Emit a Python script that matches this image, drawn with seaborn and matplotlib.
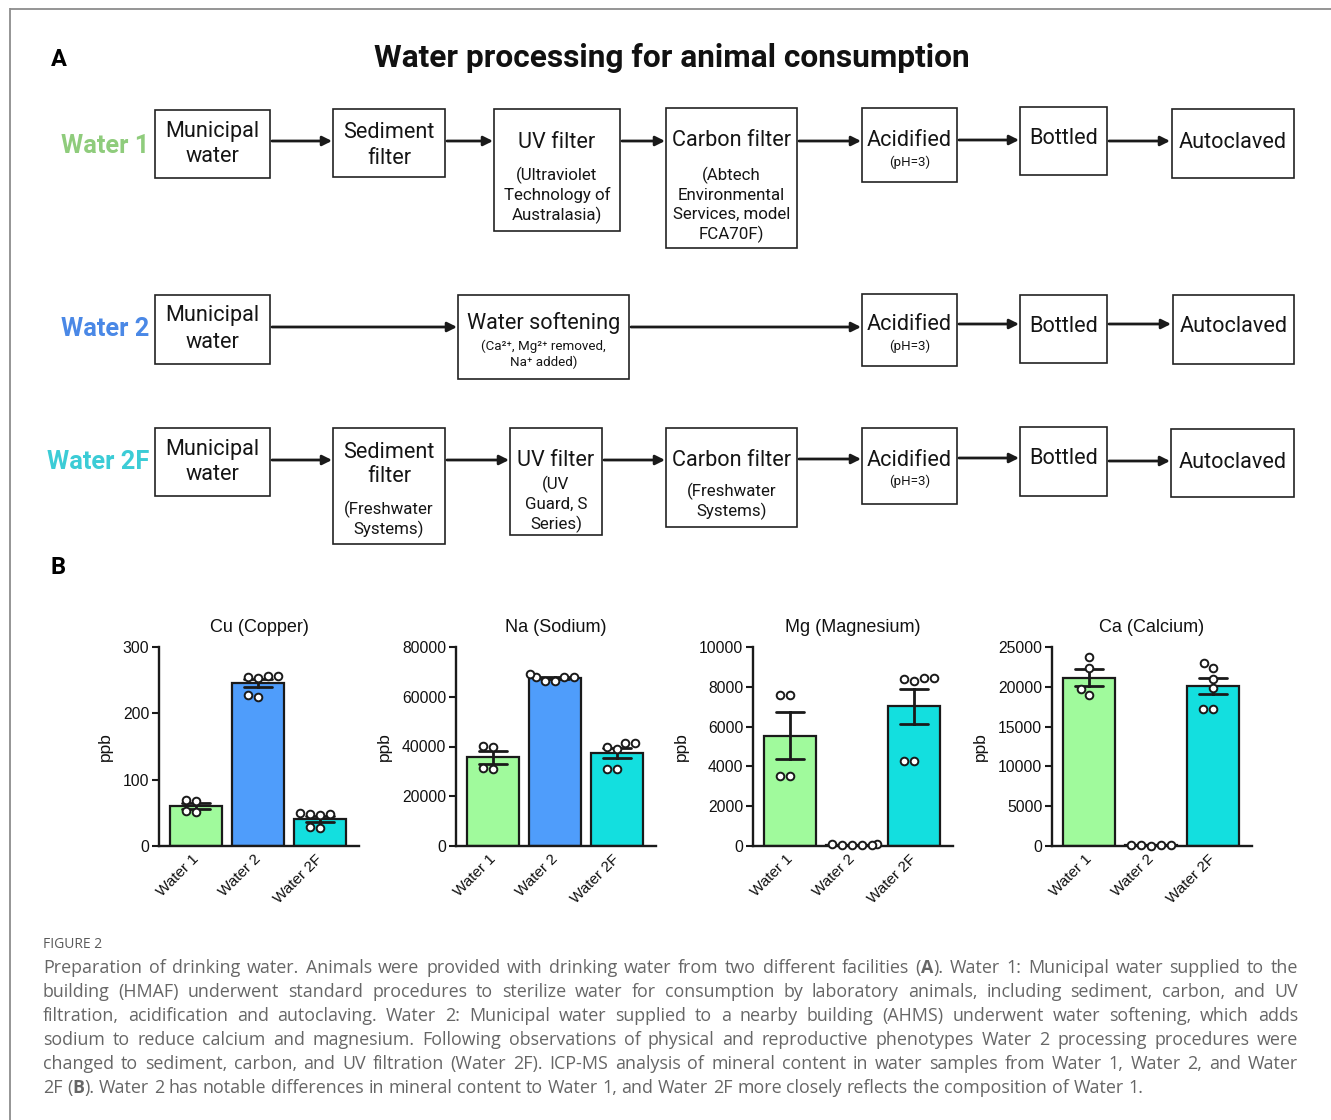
import numpy as np
import pandas as pd
import matplotlib
matplotlib.use("Agg")
import matplotlib.pyplot as plt
from matplotlib.patches import Rectangle
import seaborn as sns

W, H = 1331, 1120

# ---------------- data (ppb, ICP-MS) ----------------
groups = ["Water 1", "Water 2", "Water 2F"]
bar_colors = ["#a0fa9c", "#4f9dfb", "#13dfdf"]

cu_w1 = [68, 69, 53, 52]
cu_w2 = [257, 255, 254, 257, 224, 227]
cu_w2f = [48, 49, 46, 48, 27, 28]

na_w1 = [40000, 40200, 31200, 31000]
na_w2 = [66300, 67900, 68000, 67900, 69000, 66300]
na_w2f = [39900, 41300, 41500, 38900, 31100, 31100]

mg_w1 = [7600, 7580, 3520, 3500]
mg_w2 = [60, 90, 80, 70, 40, 70]
mg_w2f = [8410, 8460, 8290, 8430, 4270, 4280]

ca_w1 = [23740, 22320, 19680, 18930]
ca_w2 = [80, 90, 70, 100, 60]
ca_w2f = [22400, 23030, 21020, 19810, 17250, 17260]

panel_titles = ["Cu (Copper)", "Na (Sodium)", "Mg (Magnesium)", "Ca (Calcium)"]
panel_values = [[cu_w1, cu_w2, cu_w2f], [na_w1, na_w2, na_w2f],
                [mg_w1, mg_w2, mg_w2f], [ca_w1, ca_w2, ca_w2f]]
panel_ymax = [300, 80000, 10000, 25000]
panel_ystep = [100, 20000, 2000, 5000]

# ---------------- flow diagram text ----------------
title_text = "Water processing for animal consumption"
row_names = ["Water 1", "Water 2", "Water 2F"]
row_colors = ["#8fcc7c", "#4a88e6", "#3cccd6"]

caption_head = "FIGURE 2"
caption_lines = [
    "Preparation of drinking water. Animals were provided with drinking water from two different facilities (**A**). Water 1: Municipal water supplied to the",
    "building (HMAF) underwent standard procedures to sterilize water for consumption by laboratory animals, including sediment, carbon, and UV",
    "filtration, acidification and autoclaving. Water 2: Municipal water supplied to a nearby building (AHMS) underwent water softening, which adds",
    "sodium to reduce calcium and magnesium. Following observations of physical and reproductive phenotypes Water 2 processing procedures were",
    "changed to sediment, carbon, and UV filtration (Water 2F). ICP-MS analysis of mineral content in water samples from Water 1, Water 2, and Water",
    "2F (**B**). Water 2 has notable differences in mineral content to Water 1, and Water 2F more closely reflects the composition of Water 1.",
]

# ---------------- style ----------------
sns.set_style("ticks")
plt.rcParams["font.family"] = ["Liberation Sans", "DejaVu Sans"]
DIAG_FONT = ["Roboto", "DejaVu Sans"]
CAP_FONT = ["Open Sans", "DejaVu Sans"]
INK = "#1a1a1a"

fig = plt.figure(figsize=(W / 100, H / 100), dpi=100)
bg = fig.add_axes([0, 0, 1, 1])
bg.set_xlim(0, W)
bg.set_ylim(H, 0)
bg.axis("off")

# outer frame (top and left rules)
bg.plot([10, W], [8.5, 8.5], color="#8c8c8c", lw=1.3, solid_capstyle="butt")
bg.plot([9.5, 9.5], [8, H], color="#8c8c8c", lw=1.3, solid_capstyle="butt")

# panel letters and heading
bg.text(51, 59, "A", fontsize=17, fontweight="bold", family=DIAG_FONT, va="center", ha="left", color="black")
bg.text(51, 567, "B", fontsize=17, fontweight="bold", family=DIAG_FONT, va="center", ha="left", color="black")
bg.text(672, 58, title_text, fontsize=22.8, fontweight="bold", family=DIAG_FONT,
        va="center", ha="center", color="#111111")


def box(x0, y0, x1, y1, lines):
    bg.add_patch(Rectangle((x0, y0), x1 - x0, y1 - y0, fill=False, lw=1.2, edgecolor="#222222"))
    xc = (x0 + x1) / 2
    for txt, y, size in lines:
        bg.text(xc, y, txt, fontsize=size, family=DIAG_FONT, ha="center", va="center", color="#151515")


def arrow(x0, x1, y):
    bg.annotate("", xy=(x1, y), xytext=(x0, y),
                arrowprops=dict(arrowstyle="-|>", lw=2.0, color=INK, mutation_scale=14,
                                shrinkA=0, shrinkB=0))


BIG, SMALL, TINY = 15.6, 12.2, 9.6

# row labels
for name, col, y in zip(row_names, row_colors, [146, 329, 462]):
    bg.text(149, y, name, fontsize=18.3, fontweight="bold", family=DIAG_FONT, ha="right", va="center", color=col)

# Water 1 pipeline
box(155, 110, 270, 178, [("Municipal", 131, BIG), ("water", 157, BIG)])
arrow(272, 332, 141)
box(333, 109, 445, 177, [("Sediment", 133, BIG), ("filter", 158, BIG)])
arrow(447, 493, 141)
box(494, 109, 620, 231, [("UV filter", 142, BIG), ("(Ultraviolet", 175, SMALL),
                         ("Technology of", 195, SMALL), ("Australasia)", 215, SMALL)])
arrow(622, 665, 141)
box(666, 108, 797, 248, [("Carbon filter", 141, BIG), ("(Abtech", 175, SMALL), ("Environmental", 195, SMALL),
                         ("Services, model", 214, SMALL), ("FCA70F)", 234, SMALL)])
arrow(799, 861, 141)
box(862, 108, 957, 182, [("Acidified", 140, BIG), ("(pH=3)", 162, TINY)])
arrow(959, 1019, 140)
box(1020, 107, 1107, 175, [("Bottled", 139, BIG)])
arrow(1109, 1170, 141)
box(1172, 109, 1294, 178, [("Autoclaved", 142, BIG)])

# Water 2 pipeline
box(155, 295, 270, 364, [("Municipal", 316, BIG), ("water", 342, BIG)])
arrow(272, 457, 327)
box(458, 295, 629, 379, [("Water softening", 323, BIG), ("(Ca²⁺, Mg²⁺ removed,", 346, TINY),
                         ("Na⁺ added)", 362, TINY)])
arrow(631, 861, 327)
box(862, 294, 957, 366, [("Acidified", 325, BIG), ("(pH=3)", 346, TINY)])
arrow(959, 1019, 324)
box(1020, 295, 1107, 363, [("Bottled", 326, BIG)])
arrow(1109, 1171, 324)
box(1173, 295, 1294, 364, [("Autoclaved", 326, BIG)])

# Water 2F pipeline
box(155, 428, 270, 496, [("Municipal", 449, BIG), ("water", 474, BIG)])
arrow(272, 332, 460)
box(333, 428, 445, 544, [("Sediment", 452, BIG), ("filter", 477, BIG),
                         ("(Freshwater", 509, SMALL), ("Systems)", 529, SMALL)])
arrow(447, 509, 460)
box(510, 428, 602, 535, [("UV filter", 460, BIG), ("(UV", 484, SMALL),
                         ("Guard, S", 504, SMALL), ("Series)", 524, SMALL)])
arrow(604, 665, 460)
box(666, 428, 797, 527, [("Carbon filter", 461, BIG), ("(Freshwater", 491, SMALL), ("Systems)", 511, SMALL)])
arrow(799, 861, 459)
box(862, 428, 957, 504, [("Acidified", 460, BIG), ("(pH=3)", 481, TINY)])
arrow(959, 1019, 458)
box(1020, 427, 1107, 496, [("Bottled", 459, BIG)])
arrow(1109, 1170, 461)
box(1171, 429, 1294, 497, [("Autoclaved", 462, BIG)])

# ---------------- bar charts ----------------
ax_lefts = [159, 456, 753, 1052]
ax_top, ax_bottom, ax_w = 647, 846, 200

for left, title, vals, ymax, step in zip(ax_lefts, panel_titles, panel_values, panel_ymax, panel_ystep):
    ax = fig.add_axes([left / W, 1 - ax_bottom / H, ax_w / W, (ax_bottom - ax_top) / H])
    df = pd.DataFrame({
        "group": np.repeat(groups, [len(v) for v in vals]),
        "ppb": np.concatenate([np.asarray(v, dtype=float) for v in vals]),
    })
    sns.barplot(data=df, x="group", y="ppb", hue="group", order=groups, hue_order=groups,
                palette=bar_colors, saturation=1, errorbar="se", capsize=0.45, width=0.845,
                edgecolor=INK, linewidth=1.6, err_kws={"color": INK, "linewidth": 2.0},
                legend=False, ax=ax)
    sns.swarmplot(data=df, x="group", y="ppb", order=groups, color="white", edgecolor=INK,
                  linewidth=1.4, size=5.5, ax=ax, zorder=5, clip_on=False)
    ax.set_xlim(-0.6, 2.63)
    ax.set_ylim(0, ymax)
    ax.set_yticks(np.arange(0, ymax + 1, step))
    ax.set_title(title, fontsize=13, pad=11, color="#111111")
    ax.set_xlabel("")
    ax.set_ylabel("ppb", fontsize=12.5, labelpad=7, color="#111111")
    sns.despine(ax=ax)
    for s in ["left", "bottom"]:
        ax.spines[s].set_linewidth(1.7)
        ax.spines[s].set_color(INK)
    ax.tick_params(axis="y", length=5, width=1.5, labelsize=11.3, color=INK, labelcolor="#111111", pad=2)
    ax.tick_params(axis="x", length=0, labelsize=11, labelcolor="#111111", pad=8)
    for lab in ax.get_xticklabels():
        lab.set_rotation(45)
        lab.set_ha("right")
        lab.set_va("center")
        lab.set_rotation_mode("anchor")
    ax.patch.set_visible(False)

# ---------------- caption (justified) ----------------
bg.text(43, 944, caption_head, fontsize=10, family=CAP_FONT, color="#5a5a5a", ha="left", va="center")

renderer = fig.canvas.get_renderer()
CAP_SIZE = 12.85
cap_color = "#666666"
x_left, x_right = 43, 1298


def make_word(word, y):
    parts = word.split("**")
    objs = []
    for k, p in enumerate(parts):
        if not p:
            continue
        t = bg.text(0, y, p, fontsize=CAP_SIZE, family=CAP_FONT, color=cap_color, ha="left",
                    va="baseline", fontweight="bold" if k % 2 else "normal")
        objs.append((t, t.get_window_extent(renderer).width))
    return objs


probe_a = bg.text(0, 0, "n n", fontsize=CAP_SIZE, family=CAP_FONT)
probe_b = bg.text(0, 0, "nn", fontsize=CAP_SIZE, family=CAP_FONT)
space_w = probe_a.get_window_extent(renderer).width - probe_b.get_window_extent(renderer).width
probe_a.remove()
probe_b.remove()

for i, line in enumerate(caption_lines):
    y = 973 + 24 * i
    words = [make_word(w, y) for w in line.split(" ")]
    widths = [sum(wd for _, wd in w) for w in words]
    last = i == len(caption_lines) - 1
    gap = space_w if last else max(space_w * 0.6, (x_right - x_left - sum(widths)) / (len(words) - 1))
    x = x_left
    for w, wd in zip(words, widths):
        xx = x
        for t, tw in w:
            t.set_x(xx)
            xx += tw
        x += wd + gap

fig.savefig("out.png", dpi=100)
